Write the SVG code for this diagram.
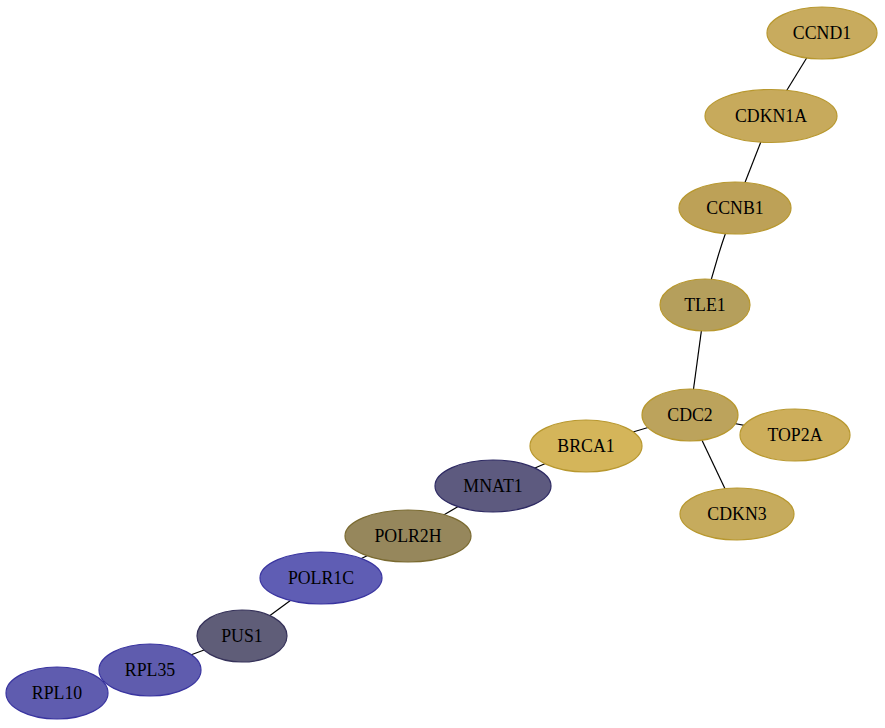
<svg xmlns="http://www.w3.org/2000/svg" width="885" height="728" viewBox="0 0 885 728">
<style>
.e{stroke:#000;stroke-width:1.2;fill:none}
.n ellipse{stroke-width:1.2}
.n text{font-family:"Liberation Serif","Times New Roman",serif;font-size:17.8px;text-anchor:middle;dominant-baseline:central;fill:#000}
.g ellipse{stroke:#b8982f}
.b ellipse{stroke:#3a35a0}
</style>
<rect width="885" height="728" fill="#fff"/>
<g id="edges">
<line class="e" x1="822" y1="33" x2="771" y2="116"/>
<line class="e" x1="771" y1="116" x2="735" y2="208"/>
<path class="e" d="M735,208 Q718,250 705,304"/>
<line class="e" x1="705" y1="304" x2="690" y2="415"/>
<line class="e" x1="690" y1="415" x2="795" y2="435"/>
<line class="e" x1="690" y1="415" x2="737" y2="514"/>
<line class="e" x1="690" y1="415" x2="586" y2="446"/>
<line class="e" x1="586" y1="446" x2="493" y2="486"/>
<line class="e" x1="493" y1="486" x2="408" y2="536"/>
<line class="e" x1="408" y1="536" x2="321" y2="578"/>
<line class="e" x1="321" y1="578" x2="242" y2="636"/>
<line class="e" x1="242" y1="636" x2="150" y2="670"/>
<line class="e" x1="150" y1="670" x2="57" y2="693"/>
</g>
<g id="CCND1" class="n g"><ellipse cx="822" cy="33" rx="55" ry="26" fill="#c8ab5e"/><text x="822" y="33">CCND1</text></g>
<g id="CDKN1A" class="n g"><ellipse cx="771" cy="116" rx="66" ry="26.5" fill="#c7aa5c"/><text x="771" y="116">CDKN1A</text></g>
<g id="CCNB1" class="n g"><ellipse cx="735" cy="208" rx="56" ry="26" fill="#bda157"/><text x="735" y="208">CCNB1</text></g>
<g id="TLE1" class="n g"><ellipse cx="705" cy="305" rx="45" ry="26" fill="#b59f5c"/><text x="705" y="305">TLE1</text></g>
<g id="CDC2" class="n g"><ellipse cx="690" cy="415" rx="48" ry="26" fill="#bca35c"/><text x="690" y="415">CDC2</text></g>
<g id="TOP2A" class="n g"><ellipse cx="795" cy="435" rx="55" ry="26" fill="#cdae5b"/><text x="795" y="435">TOP2A</text></g>
<g id="CDKN3" class="n g"><ellipse cx="737" cy="514" rx="57" ry="26" fill="#c6ab5d"/><text x="737" y="514">CDKN3</text></g>
<g id="BRCA1" class="n g"><ellipse cx="586" cy="446" rx="56" ry="26" fill="#d4b55a"/><text x="586" y="446">BRCA1</text></g>
<g id="MNAT1" class="n"><ellipse cx="493" cy="486" rx="58" ry="26" fill="#5d5a7f" stroke="#2e2a63"/><text x="493" y="486">MNAT1</text></g>
<g id="POLR2H" class="n"><ellipse cx="408" cy="536" rx="63" ry="26" fill="#96875c" stroke="#7a6a30"/><text x="408" y="536">POLR2H</text></g>
<g id="POLR1C" class="n b"><ellipse cx="321" cy="578" rx="61" ry="26" fill="#5f5db4"/><text x="321" y="578">POLR1C</text></g>
<g id="PUS1" class="n"><ellipse cx="242" cy="636" rx="45" ry="26" fill="#5f5d78" stroke="#36325a"/><text x="242" y="636">PUS1</text></g>
<g id="RPL35" class="n b"><ellipse cx="150" cy="670" rx="51" ry="26" fill="#5f5cae"/><text x="150" y="670">RPL35</text></g>
<g id="RPL10" class="n b"><ellipse cx="57" cy="693" rx="51" ry="26" fill="#5f5caf"/><text x="57" y="693">RPL10</text></g>
</svg>
